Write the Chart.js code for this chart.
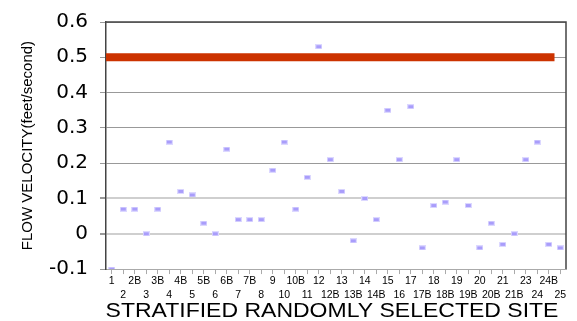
<!DOCTYPE html>
<html>
<head>
<meta charset="utf-8">
<script src="https://cdn.jsdelivr.net/npm/chart.js@4"></script>
<style>
  html, body { margin: 0; padding: 0; background: #fff; }
  #wrap { width: 577px; height: 321px; }
</style>
</head>
<body>
<div id="wrap"><canvas id="chart"></canvas></div>
<script>
// sites along the x axis (no site 22)
var sites = ['1','2','2B','3','3B','4','4B','5','5B','6','6B','7','7B','8','9','10','10B','11','12','12B',
             '13','13B','14','14B','15','16','17','17B','18','18B','19','19B','20','20B','21','21B','23','24','24B','25'];
// measured flow velocity (feet/second)
var velocity = [-0.1,0.07,0.07,0,0.07,0.26,0.12,0.11,0.03,0,0.24,0.04,0.04,0.04,0.18,0.26,0.07,0.16,0.53,0.21,
                0.12,-0.02,0.1,0.04,0.35,0.21,0.36,-0.04,0.08,0.09,0.21,0.08,-0.04,0.03,-0.03,0,0.21,0.26,-0.03,-0.04];
// standard line
var standard = 0.5;
var yMin = -0.1, yMax = 0.6;
var xTitle = 'STRATIFIED RANDOMLY SELECTED SITE';

// little lavender dash used as the point marker
function makeMarker() {
   var c = document.createElement('canvas');
   c.width = 7; c.height = 5;
   var g = c.getContext('2d');
   g.fillStyle = '#dcd8ff';
   g.fillRect(0, 0, 7, 5);
   g.fillStyle = '#a99dfb';
   g.fillRect(1, 1, 5, 3);
   return c;
}

// two staggered rows of labels
var xLabels = sites.map(function (s, i) { return i % 2 === 0 ? [s, ''] : ['', s]; });

// top/right frame and the (slightly wide) x title
var frame = {
   id: 'frame',
   afterDraw: function (chart) {
      var a = chart.chartArea, ctx = chart.ctx;
      ctx.save();
      ctx.strokeStyle = '#444';
      ctx.lineWidth = 1.5;
      ctx.beginPath();
      ctx.moveTo(a.left, a.top);
      ctx.lineTo(a.right, a.top);
      ctx.lineTo(a.right, a.bottom);
      ctx.stroke();

      ctx.fillStyle = '#000';
      ctx.font = '20px "Liberation Sans", Arial';
      ctx.textAlign = 'center';
      ctx.textBaseline = 'alphabetic';
      ctx.translate((a.left + a.right) / 2 - 4, chart.height - 4);
      ctx.scale(1.15, 1);
      ctx.fillText(xTitle, 0, 0);
      ctx.restore();
   }
};

function isMajor(v) { return Math.round(v * 100) % 10 === 0; }

var ctx = document.getElementById('chart').getContext('2d');
var chart = new Chart(ctx, {
   type: 'line',
   data: {
      labels: xLabels,
      datasets: [{
         label: 'Standard',
         xAxisID: 'x2',
         data: [{x: -0.5, y: standard}, {x: sites.length - 1.5, y: standard}],
         borderColor: '#cc3300',
         borderWidth: 8,
         borderCapStyle: 'butt',
         pointRadius: 0,
         order: 2
      }, {
         label: 'Flow velocity',
         data: velocity,
         showLine: false,
         pointStyle: makeMarker(),
         pointRadius: 3,
         order: 1
      }]
   },
   options: {
      responsive: true,
      maintainAspectRatio: false,
      animation: false,
      layout: { padding: { top: 0, right: 11, left: 19, bottom: 19 } },
      plugins: { legend: { display: false }, tooltip: { enabled: false } },
      scales: {
         x: {
            type: 'category',
            offset: true,
            grid: { offset: false, drawOnChartArea: false, drawTicks: true, tickLength: 5, tickColor: '#aaa' },
            border: { color: '#aaa', width: 1 },
            ticks: {
               autoSkip: false, maxRotation: 0, minRotation: 0, padding: 0,
               color: '#000', font: { family: '"Liberation Sans Narrow", "Liberation Sans", Arial', size: 10.5, lineHeight: 1.33 }
            }
         },
         x2: {
            type: 'linear', display: false, min: -0.5, max: sites.length - 0.5
         },
         y: {
            min: yMin, max: yMax,
            ticks: {
               stepSize: 0.05, color: '#000', padding: 12,
               font: { family: '"DejaVu Sans"', size: 20, lineHeight: 1 },
               callback: function (v) {
                  if (!isMajor(v)) return '';
                  return String(Math.round(v * 10) / 10);
               }
            },
            grid: {
               tickLength: 6, tickColor: '#999',
               color: function (c) {
                  var v = c.tick.value;
                  if (!isMajor(v)) return 'rgba(0,0,0,0)';
                  if (Math.abs(v) < 1e-9 || Math.abs(v - 0.1) < 1e-9) return '#cfcfcf';
                  return '#999';
               },
               lineWidth: function (c) {
                  var v = c.tick.value;
                  if (Math.abs(v) < 1e-9 || Math.abs(v - 0.1) < 1e-9) return 2;
                  return 1;
               }
            },
            border: { color: '#444', width: 1.5 },
            title: {
               display: true, text: 'FLOW VELOCITY(feet/second)', color: '#000',
               font: { family: '"Liberation Sans", Arial', size: 15 }, padding: { top: 0, bottom: 0 }
            }
         }
      }
   },
   plugins: [frame]
});
</script>
</body>
</html>
